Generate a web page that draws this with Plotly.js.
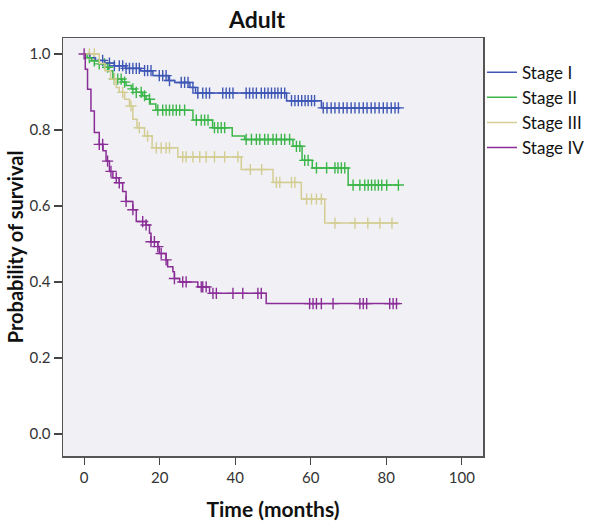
<!DOCTYPE html>
<html>
<head>
<meta charset="utf-8">
<script src="https://cdn.plot.ly/plotly-3.0.1.min.js"></script>
<style>html,body{margin:0;padding:0;background:#fff;}#chart{width:602px;height:521px;}</style>
</head>
<body>
<div id="chart"></div>
<script>
// ---- Data ----
var seriesNames = ["Stage I", "Stage II", "Stage III", "Stage IV"];

// Kaplan-Meier step functions: event times (months) and survival after each step
var stage1Times = [0, 1.5, 3.0, 5.5, 8.0, 11.0, 15.0, 18.2, 22.3, 24.0, 28.0, 29.5, 53.6, 62.8];
var stage1Surv  = [1.0, 0.99, 0.983, 0.976, 0.969, 0.962, 0.956, 0.943, 0.930, 0.925, 0.912, 0.897, 0.877, 0.858];
var stage1End = 83.6;
var stage1Censor = [4.9, 6.7, 8.0, 9.3, 10.2, 11.1, 12.0, 12.9, 13.8, 14.6, 16.0, 16.8, 17.7, 19.9, 20.8, 21.7, 22.6,
  25.7, 26.6, 27.5, 28.8, 30.1, 31.4, 32.3, 33.2, 36.7, 37.6, 38.5, 39.4, 42.9, 43.8, 44.7, 45.6, 46.9, 47.8, 48.7,
  49.6, 50.5, 51.3, 52.2, 53.1, 54.9, 55.8, 56.7, 57.6, 58.5, 59.3, 60.2, 61.0, 63.3, 64.3, 65.4, 66.4, 67.5, 68.6,
  69.6, 70.7, 71.7, 72.8, 73.9, 74.9, 76.0, 77.0, 78.1, 79.2, 80.2, 81.3, 82.3, 83.2];

var stage2Times = [0, 0.8, 2.0, 4.0, 5.5, 6.5, 7.6, 10.0, 11.1, 12.5, 13.8, 15.5, 16.4, 17.5, 19.0, 28.8, 34.0, 39.2, 42.5, 55.3, 57.7, 60.4, 69.9];
var stage2Surv  = [1.0, 0.99, 0.982, 0.974, 0.965, 0.956, 0.934, 0.926, 0.917, 0.908, 0.899, 0.890, 0.881, 0.868, 0.852, 0.826, 0.806, 0.784, 0.775, 0.757, 0.720, 0.700, 0.655];
var stage2End = 83.4;
var stage2Censor = [1.4, 2.7, 4.0, 5.4, 6.2, 8.0, 8.9, 9.8, 10.7, 12.9, 13.8, 15.1, 16.0, 17.3, 19.5, 20.8, 21.7, 22.6,
  23.5, 24.4, 25.3, 26.6, 29.7, 31.0, 31.9, 32.8, 34.5, 35.4, 36.3, 37.2, 42.9, 44.3, 45.6, 46.5, 47.8, 48.7, 50.0,
  50.9, 52.2, 53.1, 54.4, 56.2, 57.1, 58.4, 59.3, 61.5, 64.2, 66.4, 67.2, 68.1, 69.0, 71.2, 73.0, 74.3, 75.2, 76.1,
  77.0, 77.9, 78.8, 80.1, 83.2];

var stage3Times = [0, 4.0, 5.5, 7.0, 8.5, 9.3, 10.7, 12.0, 12.9, 14.0, 16.0, 18.0, 24.8, 41.6, 50.0, 57.5, 63.7];
var stage3Surv  = [1.0, 0.975, 0.956, 0.934, 0.912, 0.899, 0.881, 0.863, 0.828, 0.806, 0.784, 0.753, 0.729, 0.696, 0.662, 0.618, 0.555];
var stage3End = 83.2;
var stage3Censor = [1.4, 2.7, 8.0, 10.2, 12.4, 14.6, 16.8, 19.1, 20.4, 21.7, 22.6, 26.1, 27.0, 28.8, 30.6, 32.3,
  34.5, 37.2, 40.7, 44.0, 47.0, 50.9, 51.8, 54.9, 55.8, 58.9, 60.2, 61.5, 62.8, 66.4, 71.7, 75.1, 78.3, 81.5];

var stage4Times = [0, 0.3, 0.9, 1.8, 2.7, 4.0, 5.0, 5.8, 6.7, 7.6, 9.3, 10.2, 11.1, 12.9, 13.8, 16.4, 17.3, 17.7,
  19.5, 19.9, 21.7, 22.1, 23.5, 23.9, 25.3, 30.1, 33.2, 48.2];
var stage4Surv  = [1.0, 0.96, 0.907, 0.850, 0.793, 0.762, 0.745, 0.718, 0.691, 0.674, 0.661, 0.638, 0.612, 0.590,
  0.559, 0.550, 0.528, 0.506, 0.493, 0.475, 0.458, 0.440, 0.427, 0.409, 0.400, 0.387, 0.370, 0.343];
var stage4End = 83.6;
var stage4Censor = [0, 4.0, 4.9, 6.2, 7.1, 8.5, 9.3, 11.1, 12.9, 15.5, 16.4, 17.7, 18.6, 19.5, 20.4, 21.7, 23.9,
  26.1, 27.0, 31.0, 31.4, 32.3, 34.1, 35.0, 39.4, 42.0, 46.0, 46.9, 59.7, 60.6, 61.5, 62.8, 65.9, 73.0, 73.9, 74.8,
  80.9, 81.8, 82.7];

var xTickVals = [0, 20, 40, 60, 80, 100];
var yTickVals = [0.0, 0.2, 0.4, 0.6, 0.8, 1.0];

// ---- Styles ----
var colors = ["#3f57b5", "#3cb64a", "#d3cd93", "#8a2e97"];
var FONT = "Lato, 'Open Sans', sans-serif";

function survAt(times, surv, t) {
  var s = surv[0];
  for (var i = 0; i < times.length; i++) { if (times[i] <= t) s = surv[i]; }
  return s;
}

var all = [
  [stage1Times, stage1Surv, stage1End, stage1Censor],
  [stage2Times, stage2Surv, stage2End, stage2Censor],
  [stage3Times, stage3Surv, stage3End, stage3Censor],
  [stage4Times, stage4Surv, stage4End, stage4Censor]
];

var lineTraces = [], markTraces = [];
all.forEach(function (d, i) {
  var xs = d[0].slice(), ys = d[1].slice();
  xs.push(d[2]); ys.push(d[1][d[1].length - 1]);
  lineTraces.push({
    x: xs, y: ys, type: "scatter", mode: "lines", name: seriesNames[i],
    line: {shape: "hv", color: colors[i], width: 1.5}, hoverinfo: "skip"
  });
  markTraces.push({
    x: d[3], y: d[3].map(function (t) { return survAt(d[0], d[1], t); }),
    type: "scatter", mode: "markers", showlegend: false, hoverinfo: "skip",
    marker: {symbol: "cross-thin-open", size: 8, line: {color: colors[i], width: 1.4}, color: colors[i]}
  });
});

var layout = {
  width: 602, height: 521,
  margin: {l: 63, r: 119, t: 38, b: 65},
  paper_bgcolor: "#ffffff",
  plot_bgcolor: "#f1f1f5",
  font: {family: FONT, color: "#333"},
  title: {text: "<b>Adult</b>", x: 0.427, xref: "container", xanchor: "center",
          y: 0.962, yref: "container", yanchor: "middle",
          font: {family: FONT, size: 23, color: "#111"}},
  xaxis: {
    range: [-5.6, 105.6], tickvals: xTickVals, ticks: "outside", ticklen: 7, tickcolor: "#444", tickwidth: 1.2,
    showgrid: false, zeroline: false, showline: true, linecolor: "#555", linewidth: 1.5, mirror: true,
    tickfont: {family: FONT, size: 15, color: "#333"},
    title: {text: "<b>Time (months)</b>", standoff: 18, font: {family: FONT, size: 21, color: "#111"}}
  },
  yaxis: {
    range: [-0.058, 1.042], tickvals: yTickVals, tickformat: ".1f", ticks: "outside", ticklen: 8, tickcolor: "#444", tickwidth: 1.2,
    showgrid: false, zeroline: false, showline: true, linecolor: "#555", linewidth: 1.5, mirror: true,
    tickfont: {family: FONT, size: 15, color: "#333"},
    title: {text: "<b>Probability of survival</b>", standoff: 0, font: {family: FONT, size: 20, color: "#111"}}
  },
  legend: {x: 0.9976, xanchor: "left", y: 0.96, yanchor: "top", bgcolor: "rgba(0,0,0,0)",
           font: {family: FONT, size: 17, color: "#111"}, tracegroupgap: 0},
  showlegend: true
};

Plotly.newPlot("chart", markTraces.concat(lineTraces), layout, {displayModeBar: false, staticPlot: true});
</script>
</body>
</html>
